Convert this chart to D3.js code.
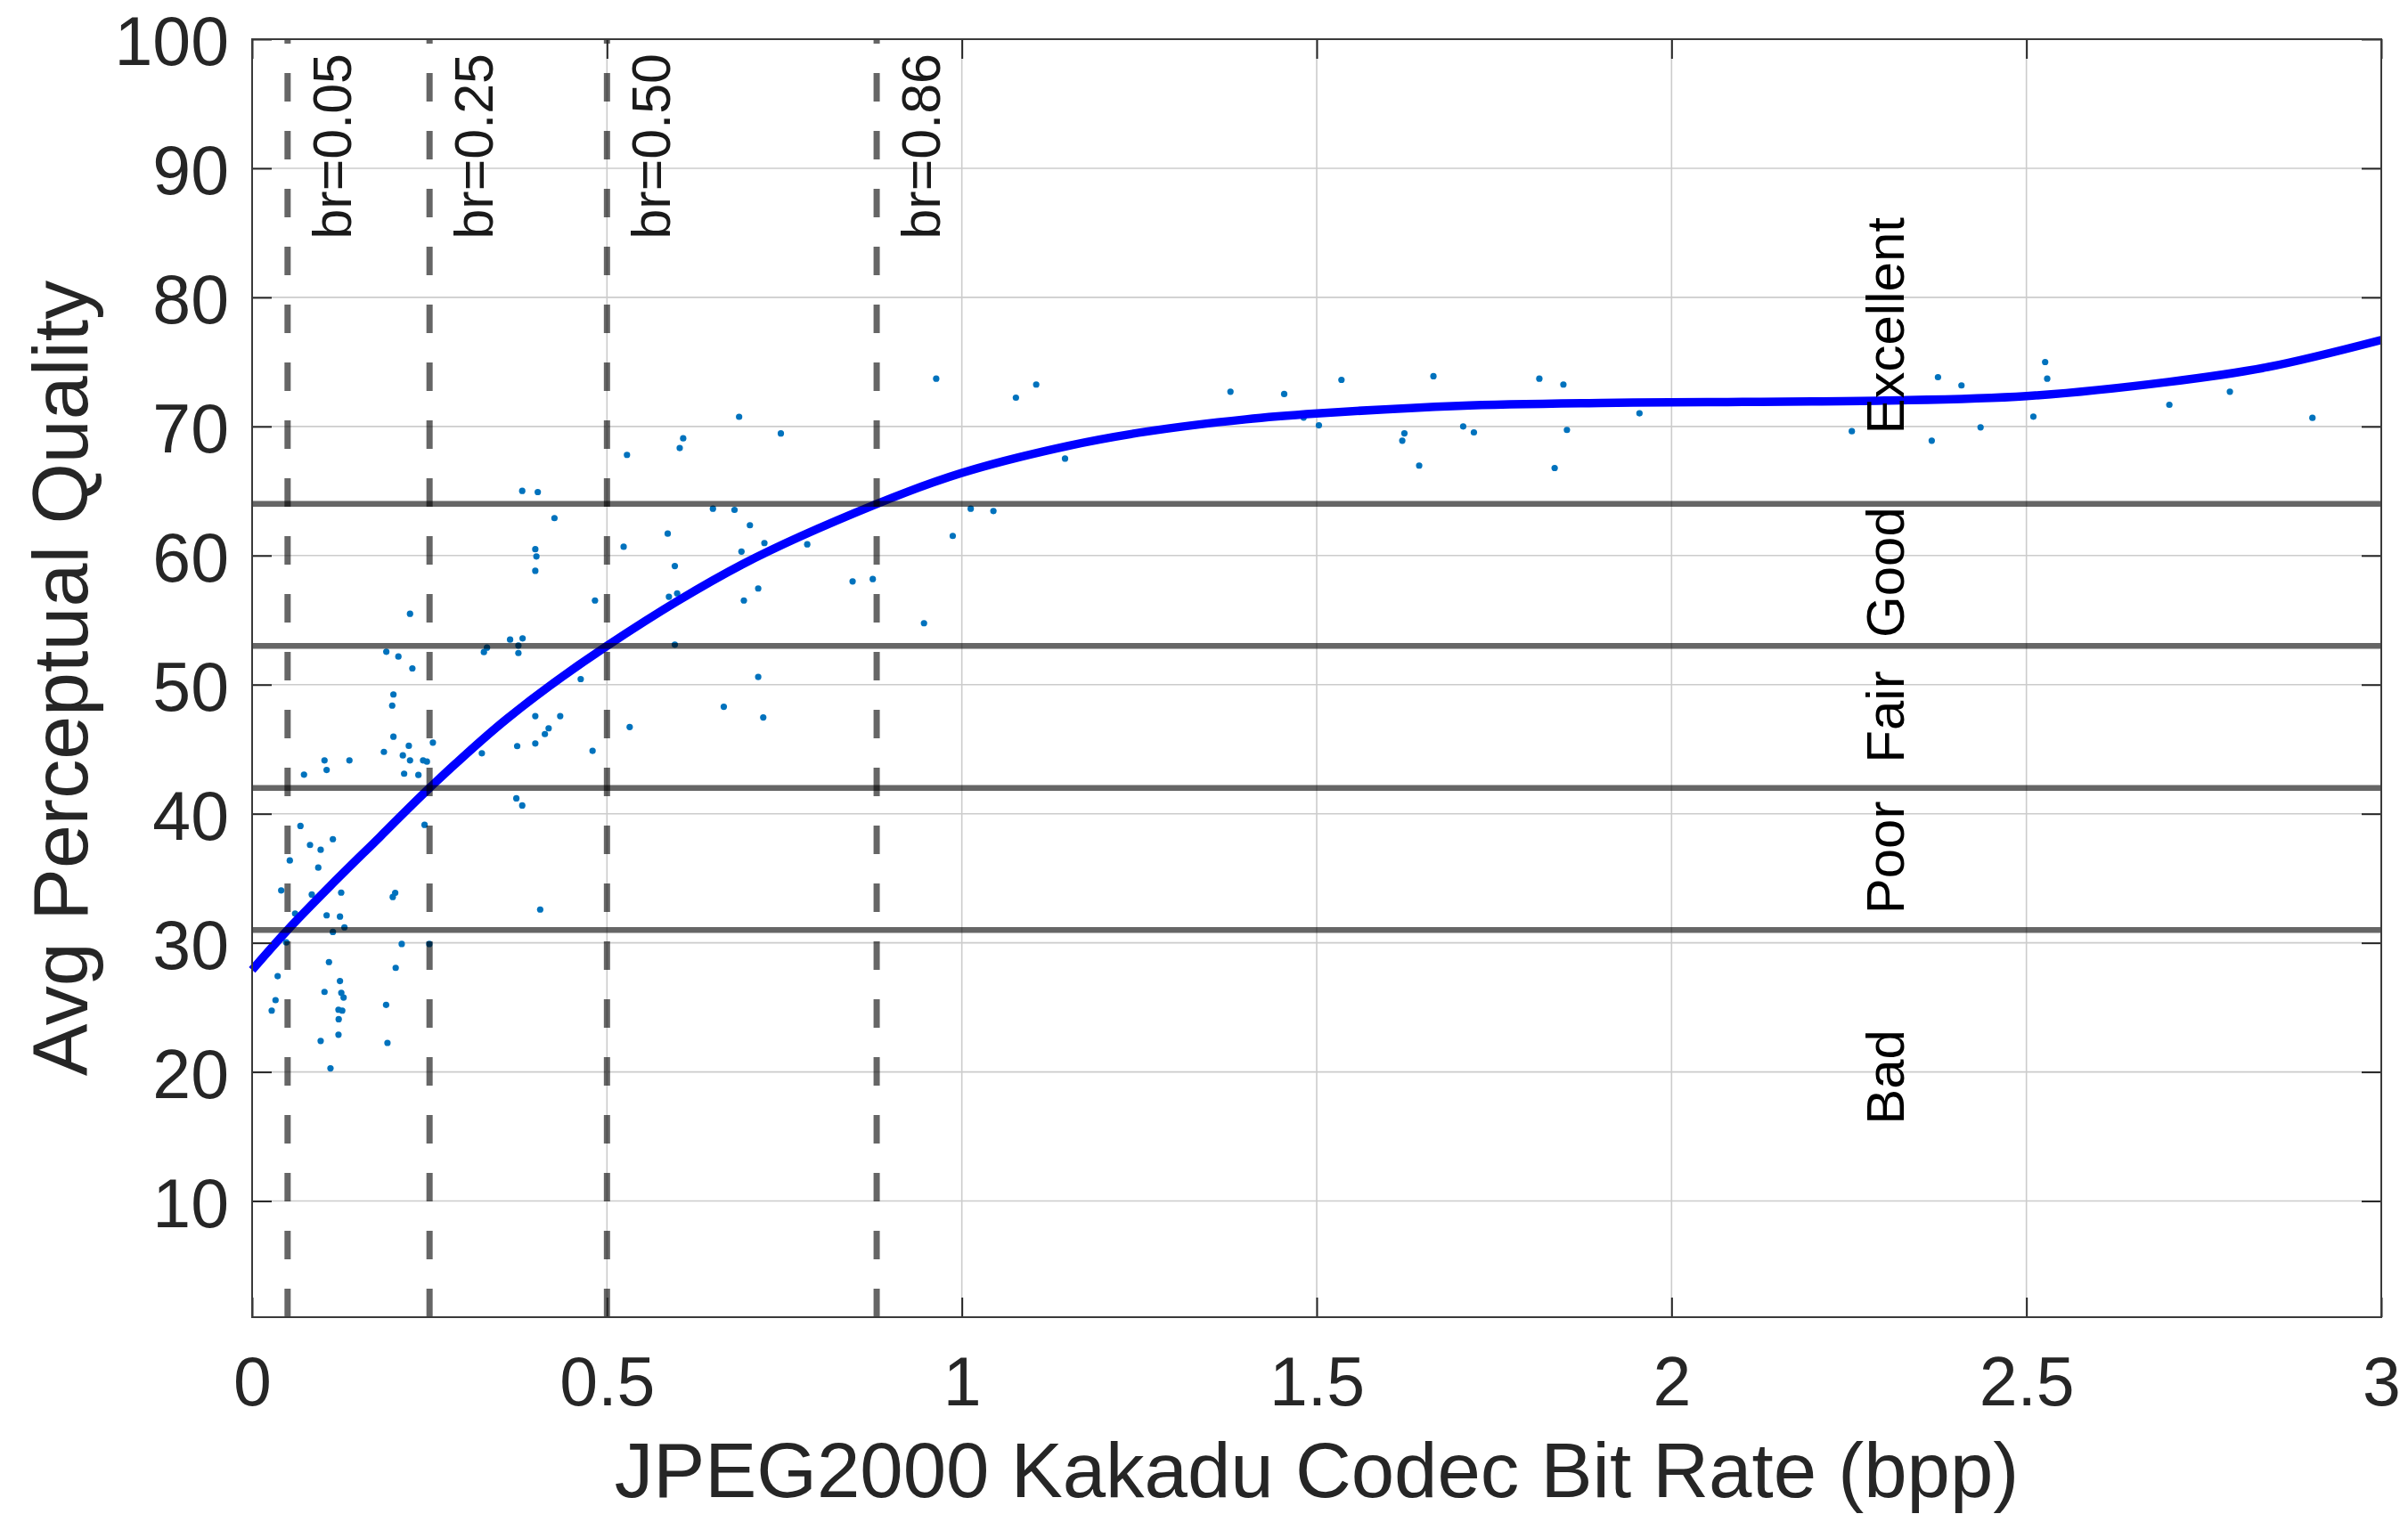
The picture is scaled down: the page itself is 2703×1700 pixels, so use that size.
<!DOCTYPE html>
<html>
<head>
<meta charset="utf-8">
<script src="https://cdn.jsdelivr.net/npm/d3@7"></script>
<style>
  html, body { margin: 0; padding: 0; background: #ffffff; }
  svg { display: block; }
  text { font-family: "Liberation Sans", Arial, Helvetica, sans-serif; }
</style>
</head>
<body>
<svg id="chart" width="2703" height="1700"></svg>
<script>
// ---------------- DATA ----------------
const xTickValues = [0, 0.5, 1, 1.5, 2, 2.5, 3];
const xTickLabels = ["0", "0.5", "1", "1.5", "2", "2.5", "3"];
const yTickValues = [10, 20, 30, 40, 50, 60, 70, 80, 90, 100];
const yTickLabels = ["10", "20", "30", "40", "50", "60", "70", "80", "90", "100"];

// scatter: bit rate (bpp)
const scatterX = [
  0.2225,0.1891,0.2061,0.2258,0.3635,0.3811,0.3752,0.3752,0.3266,0.3309,
  0.1991,0.1974,0.1991,0.2208,0.2547,0.1857,0.2124,0.2225,0.2409,0.2463,
  0.1020,0.1371,0.1050,0.0731,0.2142,0.2343,0.3237,0.3735,0.3723,0.3806,
  0.0681,0.2430,0.1138,0.0816,0.0966,0.0531,0.0932,0.0410,0.0841,0.1255,
  0.1982,0.2016,0.0606,0.1050,0.1238,0.1301,0.1138,0.0481,0.2108,0.2497,
  0.1083,0.0360,0.2023,0.1238,0.1020,0.1257,0.1289,0.0330,0.0276,0.1888,
  0.1217,0.1270,0.1220,0.1217,0.0966,0.1907,0.1104,
  0.3806,0.4025,0.4260,0.3990,0.4006,0.3990,0.4831,0.5235,0.5282,0.6025,
  0.6074,0.6862,0.7450,0.6493,0.6797,0.7014,0.5856,0.7218,0.7822,0.6895,
  0.5956,0.8461,0.8745,0.7131,0.6929,0.5873,0.5989,0.9467,0.5956,0.4630,
  0.7131,0.6646,0.7202,0.3990,0.4341,0.4178,0.4125,0.5320,0.3990,0.4797,
  0.4059,
  0.9639,1.1048,1.0762,1.1454,1.0125,1.0445,0.9872,1.3785,1.4542,1.5349,
  1.6645,1.8137,1.8476,1.4816,1.5031,1.6236,1.6206,1.7064,1.7215,1.6444,
  1.8526,1.8353,1.9548,2.2540,2.3666,2.3754,2.4085,2.4354,2.5098,2.5264,
  2.5293,2.7014,2.7867,2.9030
];
// scatter: average perceptual quality
const scatterY = [
  55.49,52.55,52.18,51.26,53.49,53.58,53.03,52.45,52.52,52.87,
  49.24,48.38,45.97,45.26,45.51,44.79,44.52,44.13,44.13,44.04,
  44.13,44.13,43.39,43.03,43.10,43.00,44.68,45.24,41.19,40.64,
  39.05,39.14,38.03,37.58,37.21,36.38,35.83,34.06,33.74,33.89,
  33.55,33.87,32.27,32.13,32.03,31.20,30.84,30.03,29.91,29.91,
  28.51,27.42,28.06,27.04,26.20,26.13,25.76,25.56,24.75,25.19,
  24.82,24.75,24.08,22.88,22.40,22.25,20.28,
  65.01,64.92,62.90,60.49,59.93,58.82,56.52,60.68,67.80,68.33,
  69.08,70.75,69.46,63.63,63.54,62.35,61.70,60.97,60.87,60.31,
  59.19,58.00,58.18,57.45,56.52,56.81,57.07,54.76,53.10,50.43,
  50.60,48.29,47.46,47.56,47.56,46.62,46.17,46.72,45.44,44.87,
  32.58,
  73.70,73.25,72.23,67.51,63.63,63.45,61.52,72.69,72.51,73.61,
  73.89,73.70,73.25,70.69,70.09,69.47,68.90,70.00,69.54,66.97,
  69.73,66.78,71.02,69.63,68.90,73.82,73.18,69.93,70.76,74.99,
  73.70,71.68,72.69,70.67
];

// fitted curve, points
const fitX = [0, 0.05, 0.11, 0.18, 0.25, 0.36, 0.5, 0.69, 0.88, 1.0, 1.15, 1.26, 1.4, 1.5, 1.7, 1.9, 2.1, 2.3, 2.5, 2.7, 2.84, 3.0];
const fitY = [27.9, 31.0, 34.4, 38.2, 42.0, 47.4, 53.0, 59.3, 64.0, 66.4, 68.5, 69.6, 70.55, 71.0, 71.6, 71.82, 71.9, 72.0, 72.35, 73.45, 74.6, 76.7];

// quality thresholds
const thresholdValues = [31, 42, 53, 64];
// bit-rate markers
const brValues = [0.05, 0.25, 0.50, 0.88];
const brLabels = ["br=0.05", "br=0.25", "br=0.50", "br=0.86"];
// quality category labels
const qualityLabels = ["Excellent", "Good", "Fair", "Poor", "Bad"];
const qualityLabelY = [77.8, 58.7, 47.5, 36.6, 19.6];
const qualityLabelX = 2.3;

const xTitle = "JPEG2000 Kakadu Codec Bit Rate (bpp)";
const yTitle = "Avg Perceptual Quality";

// ---------------- LAYOUT ----------------
const L = 283, R = 2673, T = 44, B = 1479;
const svg = d3.select("#chart");
const x = d3.scaleLinear().domain([0, 3]).range([L, R]);
const y = d3.scaleLinear().domain([1, 100]).range([B, T]);

// background
svg.append("rect").attr("x", 0).attr("y", 0).attr("width", 2703).attr("height", 1700).attr("fill", "#fff");

// grid
const grid = svg.append("g");
grid.selectAll("line.gx").data(xTickValues.filter(v => v > 0 && v < 3)).enter().append("line")
  .attr("x1", d => x(d)).attr("x2", d => x(d)).attr("y1", T).attr("y2", B)
  .attr("stroke", "#cccccc").attr("stroke-width", 1.6);
grid.selectAll("line.gy").data(yTickValues.filter(v => v < 100)).enter().append("line")
  .attr("x1", L).attr("x2", R).attr("y1", d => y(d)).attr("y2", d => y(d))
  .attr("stroke", "#cccccc").attr("stroke-width", 1.6);

// scatter
const pts = scatterX.map((v, i) => [v, scatterY[i]]);
svg.append("g").selectAll("circle").data(pts).enter().append("circle")
  .attr("cx", d => x(d[0])).attr("cy", d => y(d[1])).attr("r", 3.6)
  .attr("fill", "#0072BD");

// fitted curve
const fitPts = fitX.map((v, i) => [v, fitY[i]]);
svg.append("path").datum(fitPts)
  .attr("d", d3.line().x(d => x(d[0])).y(d => y(d[1])).curve(d3.curveCatmullRom.alpha(0.5)))
  .attr("fill", "none").attr("stroke", "#0000ff").attr("stroke-width", 9.5)
  .attr("stroke-linejoin", "round");

// threshold lines (semi-transparent dark gray)
svg.append("g").selectAll("line").data(thresholdValues).enter().append("line")
  .attr("x1", L).attr("x2", R).attr("y1", d => y(d)).attr("y2", d => y(d))
  .attr("stroke", "#000").attr("stroke-opacity", 0.6).attr("stroke-width", 6.5);

// bit-rate dashed lines (drawn bottom -> top so dashes start at bottom)
svg.append("g").selectAll("line").data(brValues).enter().append("line")
  .attr("x1", d => x(d)).attr("x2", d => x(d)).attr("y1", B).attr("y2", T)
  .attr("stroke", "#000").attr("stroke-opacity", 0.6).attr("stroke-width", 7)
  .attr("stroke-dasharray", "32,33");

// br labels
svg.append("g").selectAll("text").data(brValues).enter().append("text")
  .attr("transform", d => `translate(${x(d) + 71},60) rotate(-90)`)
  .attr("text-anchor", "end")
  .attr("font-size", 61).attr("fill", "#1a1a1a")
  .text((d, i) => brLabels[i]);

// quality labels
svg.append("g").selectAll("text").data(qualityLabels).enter().append("text")
  .attr("transform", (d, i) => `translate(${x(qualityLabelX) + 22},${y(qualityLabelY[i])}) rotate(-90)`)
  .attr("text-anchor", "middle")
  .attr("font-size", 60).attr("fill", "#000")
  .text(d => d);

// axes
const axisColor = "#262626";
const xAxis = svg.append("g").attr("transform", `translate(0,${B})`)
  .call(d3.axisBottom(x).tickValues(xTickValues).tickFormat((d, i) => xTickLabels[i])
    .tickSize(-22).tickSizeOuter(0).tickPadding(44));
const yAxis = svg.append("g").attr("transform", `translate(${L},0)`)
  .call(d3.axisLeft(y).tickValues(yTickValues).tickFormat((d, i) => yTickLabels[i])
    .tickSize(-22).tickSizeOuter(0).tickPadding(26));
// top & right ticks
const xTop = svg.append("g").attr("transform", `translate(0,${T})`)
  .call(d3.axisTop(x).tickValues(xTickValues).tickFormat("").tickSize(-22).tickSizeOuter(0));
const yRight = svg.append("g").attr("transform", `translate(${R},0)`)
  .call(d3.axisRight(y).tickValues(yTickValues).tickFormat("").tickSize(-22).tickSizeOuter(0));

[xAxis, yAxis, xTop, yRight].forEach(g => {
  g.select(".domain").remove();
  g.selectAll(".tick line").attr("stroke", axisColor).attr("stroke-width", 2);
  g.selectAll("text").attr("font-size", 77).attr("fill", axisColor)
    .attr("font-family", "'Liberation Sans', Arial, Helvetica, sans-serif");
});
yAxis.selectAll("text").attr("dy", "0.37em");

// box
svg.append("rect").attr("x", L).attr("y", T).attr("width", R - L).attr("height", B - T)
  .attr("fill", "none").attr("stroke", "#3a3a3a").attr("stroke-width", 2);

// axis titles
svg.append("text").attr("x", (L + R) / 2).attr("y", 1681)
  .attr("text-anchor", "middle").attr("font-size", 87).attr("fill", axisColor)
  .text(xTitle);
svg.append("text").attr("transform", `translate(98,${(T + B) / 2}) rotate(-90)`)
  .attr("text-anchor", "middle").attr("font-size", 88).attr("fill", axisColor)
  .text(yTitle);
</script>
</body>
</html>
